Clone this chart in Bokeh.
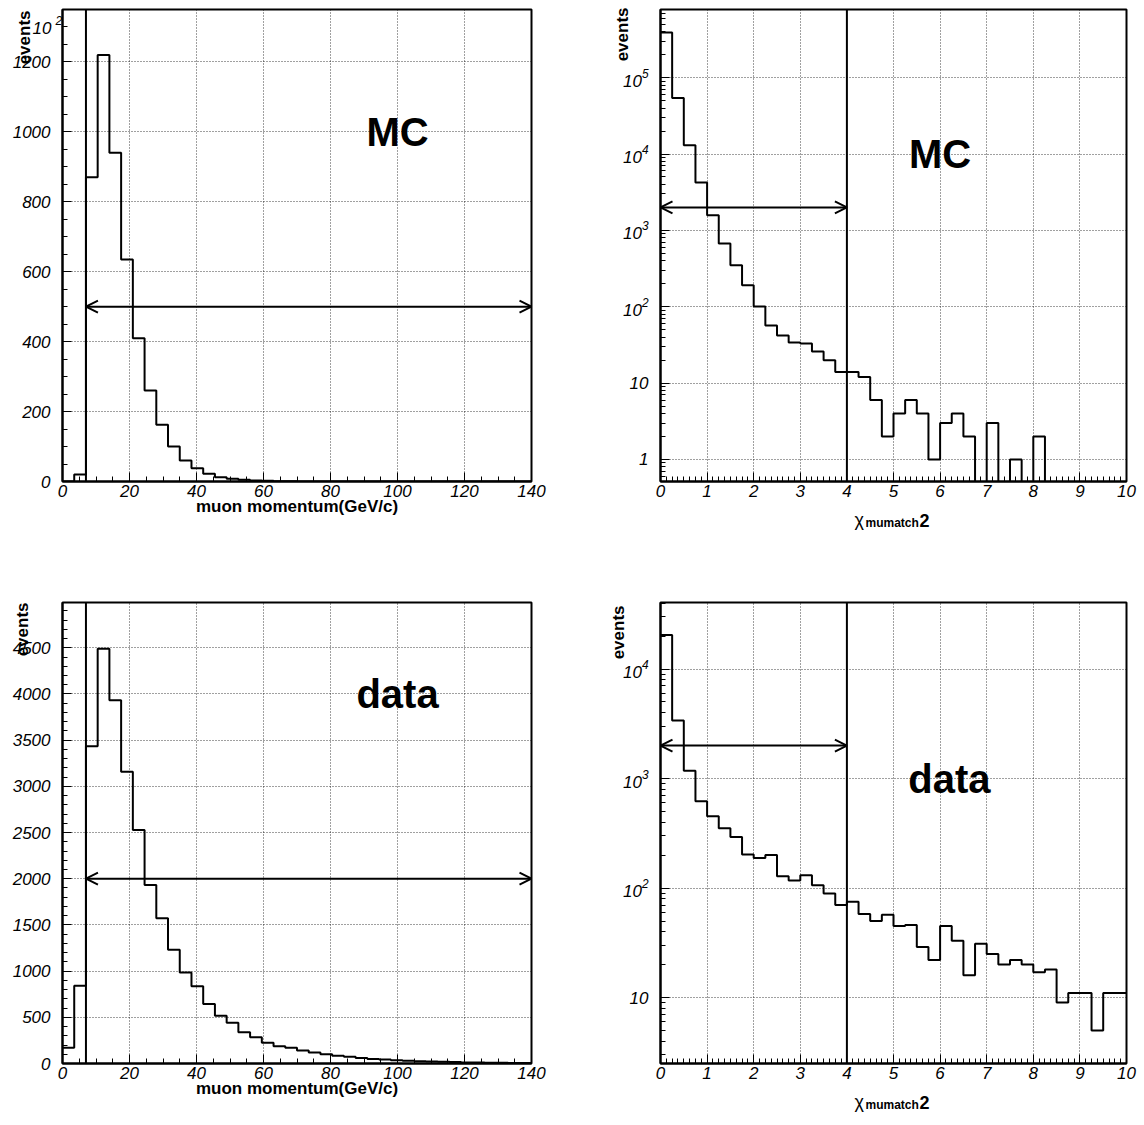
import math
import numpy as np
from bokeh.plotting import figure
from bokeh.models import (Range1d, SingleIntervalTicker, FixedTicker, LogTickFormatter,
                          Label, Arrow, OpenHead, Span, GridBox)
from bokeh.embed import file_html
from bokeh.resources import INLINE

# ---------------- data ----------------
momentum_bin_width = 3.5          # GeV/c, 40 bins from 0 to 140
mc_momentum = [0, 20, 870, 1220, 940, 635, 410, 260, 162, 100,
               60, 38, 22, 12, 8, 5, 3, 2, 1, 1,
               0, 0, 0, 0, 0, 0, 0, 0, 0, 0,
               0, 0, 0, 0, 0, 0, 0, 0, 0, 0]
data_momentum = [170, 842, 3434, 4489, 3931, 3157, 2527, 1933, 1573, 1231,
                 986, 835, 645, 518, 440, 338, 284, 224, 187, 170,
                 140, 120, 100, 85, 72, 60, 50, 42, 35, 30,
                 25, 21, 18, 15, 12, 10, 9, 7, 6, 5]

chi2_bin_width = 0.25             # 40 bins from 0 to 10
mc_chi2 = [390000, 54000, 13000, 4230, 1580, 671, 349, 191, 101, 57,
           42, 34, 33, 26, 20, 14, 14, 12, 6, 2,
           4, 6, 4, 1, 3, 4, 2, 0, 3, 0,
           1, 0, 2, 0, 0, 0, 0, 0, 0, 0]
data_chi2 = [20400, 3380, 1180, 621, 453, 352, 292, 203, 188, 200,
             128, 117, 131, 106, 89, 70, 75, 58, 50, 57,
             45, 46, 29, 22, 45, 33, 16, 31, 25, 20,
             22, 20, 17, 18, 9, 11, 11, 5, 11, 11]

momentum_cut = 7
momentum_max = 140
chi2_cut = 4
chi2_max = 10
mc_momentum_arrow = 500
data_momentum_arrow = 2000
mc_chi2_arrow = 2000
data_chi2_arrow = 2000

log_major = [1, 10, 100, 1000, 10000, 100000]

FONT = "Liberation Sans"
W, H = 1144, 1125


def step_path(bin_width, values, floor):
    xs, ys = [], []
    for i, v in enumerate(values):
        v = max(v, floor)
        xs += [i * bin_width, (i + 1) * bin_width]
        ys += [v, v]
    return xs, ys


def make_fig(width, height, left, right, top, bottom, xr, yr, log=False):
    p = figure(width=width, height=height, x_range=xr, y_range=yr,
               y_axis_type="log" if log else "linear",
               output_backend="svg", toolbar_location=None, title=None,
               min_border_left=left, min_border_right=right,
               min_border_top=top, min_border_bottom=bottom)
    p.background_fill_color = "white"
    p.border_fill_color = "white"
    p.outline_line_color = "black"
    p.outline_line_width = 2
    for ax in (p.xaxis[0], p.yaxis[0]):
        ax.axis_line_width = 2
        ax.axis_line_color = "black"
        ax.major_tick_in = 9
        ax.major_tick_out = 0
        ax.minor_tick_in = 5
        ax.minor_tick_out = 0
        ax.major_tick_line_color = "black"
        ax.minor_tick_line_color = "black"
        ax.major_tick_line_width = 1
        ax.major_label_text_font = FONT
        ax.major_label_text_font_style = "italic"
        ax.major_label_text_font_size = "17px"
        ax.major_label_text_color = "black"
    p.xaxis[0].major_label_standoff = 3
    p.yaxis[0].major_label_standoff = 12
    for g in (p.xgrid[0], p.ygrid[0]):
        g.grid_line_color = "black"
        g.grid_line_alpha = 0.75
        g.grid_line_dash = "1 2"
        g.grid_line_width = 1
    return p


def label(p, s, x, y, size, style="normal", align="left", angle=0.0):
    p.add_layout(Label(x=x, y=y, text=s, text_font=FONT, text_font_size=f"{size}px",
                       text_font_style=style, text_align=align,
                       text_baseline="alphabetic", angle=angle, text_color="black"))


def arrow(p, x0, x1, y):
    p.add_layout(Arrow(start=OpenHead(size=12, line_width=2, line_color="black"),
                       end=OpenHead(size=12, line_width=2, line_color="black"),
                       x_start=x0, y_start=y, x_end=x1, y_end=y,
                       line_width=2, line_color="black"))


def momentum_axis_title(p):
    p.xaxis[0].axis_label = "muon momentum(GeV/c)"
    p.xaxis[0].axis_label_text_font = FONT
    p.xaxis[0].axis_label_text_font_style = "bold"
    p.xaxis[0].axis_label_text_font_size = "17px"
    p.xaxis[0].axis_label_text_color = "black"
    p.xaxis[0].axis_label_standoff = -3


minor_log = [m * d for d in [0.1, 1, 10, 100, 1000, 10000, 100000] for m in range(2, 10)]

# ---------------- top-left: MC momentum ----------------
p1 = make_fig(596, 560, 62, 64, 8, 79, Range1d(0, momentum_max), Range1d(0, 1350))
p1.xaxis[0].ticker = SingleIntervalTicker(interval=20, num_minor_ticks=4)
p1.yaxis[0].ticker = SingleIntervalTicker(interval=200, num_minor_ticks=4)
xs, ys = step_path(momentum_bin_width, mc_momentum, 0)
p1.line(xs, ys, line_color="black", line_width=2)
p1.add_layout(Span(location=momentum_cut, dimension="height", line_color="black", line_width=2))
arrow(p1, momentum_cut, momentum_max, mc_momentum_arrow)
label(p1, "MC", 100, 1000, 40, style="bold", align="center")
momentum_axis_title(p1)

# ---------------- top-right: MC chi2 ----------------
p2 = make_fig(548, 560, 64, 15, 9, 79, Range1d(0, chi2_max), Range1d(0.515, 7.8e5), log=True)
p2.xaxis[0].ticker = SingleIntervalTicker(interval=1, num_minor_ticks=8)
p2.yaxis[0].ticker = FixedTicker(ticks=log_major, minor_ticks=minor_log)
p2.yaxis[0].formatter = LogTickFormatter(min_exponent=2)
xs, ys = step_path(chi2_bin_width, mc_chi2, 0.2)
p2.line(xs, ys, line_color="black", line_width=2)
p2.add_layout(Span(location=chi2_cut, dimension="height", line_color="black", line_width=2))
arrow(p2, 0, chi2_cut, mc_chi2_arrow)
label(p2, "MC", 6.0, 10000, 40, style="bold", align="center")

# ---------------- bottom-left: data momentum ----------------
p3 = make_fig(596, 565, 61, 65, 41, 62, Range1d(0, momentum_max), Range1d(0, 4990))
p3.xaxis[0].ticker = SingleIntervalTicker(interval=20, num_minor_ticks=4)
p3.yaxis[0].ticker = SingleIntervalTicker(interval=500, num_minor_ticks=5)
xs, ys = step_path(momentum_bin_width, data_momentum, 0)
p3.line(xs, ys, line_color="black", line_width=2)
p3.add_layout(Span(location=momentum_cut, dimension="height", line_color="black", line_width=2))
arrow(p3, momentum_cut, momentum_max, data_momentum_arrow)
label(p3, "data", 100, 4000, 40, style="bold", align="center")
momentum_axis_title(p3)

# ---------------- bottom-right: data chi2 ----------------
p4 = make_fig(548, 565, 62, 18, 42, 62, Range1d(0, chi2_max), Range1d(2.5, 4.05e4), log=True)
p4.xaxis[0].ticker = SingleIntervalTicker(interval=1, num_minor_ticks=8)
p4.yaxis[0].ticker = FixedTicker(ticks=log_major, minor_ticks=minor_log)
p4.yaxis[0].formatter = LogTickFormatter(min_exponent=2)
xs, ys = step_path(chi2_bin_width, data_chi2, 1)
p4.line(xs, ys, line_color="black", line_width=2)
p4.add_layout(Span(location=chi2_cut, dimension="height", line_color="black", line_width=2))
arrow(p4, 0, chi2_cut, data_chi2_arrow)
label(p4, "data", 6.2, 1000, 40, style="bold", align="center")

# ---------------- transparent overlay for titles that sit outside the frames ----------------
ov = figure(width=W, height=H, x_range=Range1d(0, W), y_range=Range1d(0, H),
            x_axis_location=None, y_axis_location=None, output_backend="svg",
            toolbar_location=None, title=None, min_border=0,
            min_border_left=0, min_border_right=0, min_border_top=0, min_border_bottom=0)
ov.grid.visible = False
ov.outline_line_color = None
ov.background_fill_alpha = 0
ov.border_fill_alpha = 0


def ot(s, x, y_img, size, style="normal", align="left", angle=0.0):
    label(ov, s, x, H - y_img, size, style=style, align=align, angle=angle)


# y-axis titles ("events"), rotated, anchored at the top end
for bx, top in [(24, 10), (622, 7), (22, 602), (618, 605)]:
    ot("events", bx, top, 17, style="bold", align="right", angle=math.pi / 2)
# stray exponent marker at top-left
ot("10", 32, 27, 17, style="italic")
ot("2", 55, 20, 12, style="italic")
# chi^2 axis titles
for base in [519, 1101]:
    ot("χ", 854, base, 18)
    ot("mumatch", 865, base + 3, 12, style="bold")
    ot("2", 919, base + 1, 18, style="bold")

inner = GridBox(children=[(p1, 0, 0), (p2, 0, 1), (p3, 1, 0), (p4, 1, 1)])
outer = GridBox(children=[(inner, 0, 0), (ov, 0, 0)])
open("out.html", "w").write(file_html(outer, INLINE))
